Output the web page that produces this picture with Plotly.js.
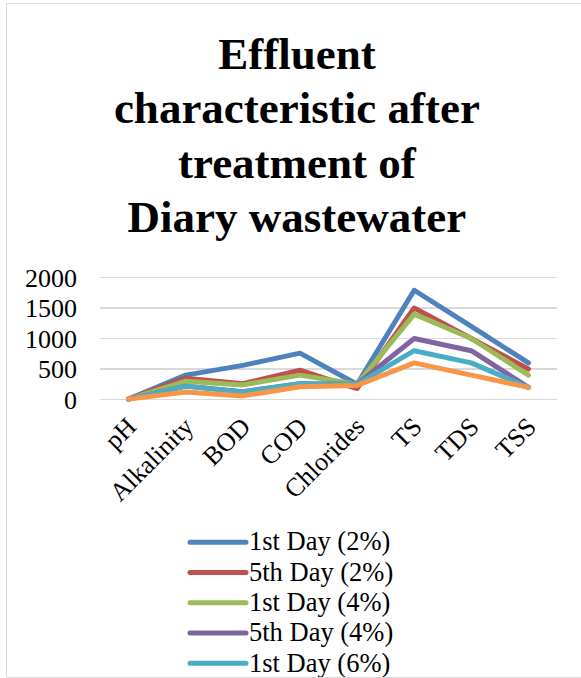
<!DOCTYPE html>
<html>
<head>
<meta charset="utf-8">
<script src="https://cdn.plot.ly/plotly-3.0.1.min.js"></script>
<style>
  html, body { margin: 0; padding: 0; background: #ffffff; overflow: hidden; width: 581px; height: 678px; }
  #frame { position: absolute; left: 6px; top: 3px; width: 640px; height: 673px; border: 1px solid #d9d9d9; pointer-events: none; z-index: 2; }
  #chart { position: absolute; left: 0; top: 0; width: 581px; height: 720px; z-index: 1; }
  .scatterlayer path.js-line, .legendlines path { stroke-linecap: round; stroke-linejoin: round; }
</style>
</head>
<body>
<div id="frame"></div>
<div id="chart"></div>
<script>
// ---- data ----
var categories = ["pH", "Alkalinity", "BOD", "COD", "Chlorides", "TS", "TDS", "TSS"];
var seriesNames = ["1st Day (2%)", "5th Day (2%)", "1st Day (4%)", "5th Day (4%)", "1st Day (6%)", "5th Day (6%)"];
var day1_2pct = [7, 400, 560, 760, 250, 1790, 1200, 600];
var day5_2pct = [7, 350, 260, 480, 180, 1500, 1000, 500];
var day1_4pct = [7, 300, 240, 400, 250, 1400, 1000, 400];
var day5_4pct = [7, 220, 130, 260, 250, 1000, 800, 200];
var day1_6pct = [7, 220, 125, 260, 250, 800, 600, 200];
var day5_6pct = [7, 125, 60, 210, 230, 600, 400, 200];
var yTicks = [0, 500, 1000, 1500, 2000];
var titleLines = ["Effluent", "characteristic after", "treatment of", "Diary wastewater"];

var seriesValues = [day1_2pct, day5_2pct, day1_4pct, day5_4pct, day1_6pct, day5_6pct];
var colors = ["#4F81BD", "#C0504D", "#9BBB59", "#8064A2", "#4BACC6", "#F79646"];

var traces = seriesValues.map(function (vals, i) {
  return {
    type: "scatter",
    mode: "lines",
    x: categories,
    y: vals,
    name: '<span style="font-size:26.5px">' + seriesNames[i] + '</span>',
    line: { color: colors[i], width: 5 },
    hoverinfo: "x+y+name"
  };
});

var serif = "'Liberation Serif', 'Times New Roman', Times, serif";

var layout = {
  width: 581,
  height: 720,
  paper_bgcolor: "rgba(0,0,0,0)",
  plot_bgcolor: "rgba(0,0,0,0)",
  margin: { l: 100, r: 24, t: 275, b: 318, pad: 0, autoexpand: false },
  title: {
    text: titleLines.map(function (t) { return '<span style="font-size:45px">' + t + '</span>'; }).join("<br>"),
    font: { family: serif, size: 41.8, color: "#000000", weight: "bold" },
    xref: "container", x: 0.511, xanchor: "center",
    yref: "container", y: 1 - 69 / 720, yanchor: "top",
    automargin: false
  },
  xaxis: {
    type: "category",
    range: [-0.5, 7.5],
    showgrid: false,
    zeroline: false,
    showline: false,
    ticks: "",
    tickangle: -45,
    ticklabelstandoff: 3,
    tickfont: { family: serif, size: 26, color: "#000000" },
    automargin: false,
    fixedrange: true
  },
  yaxis: {
    range: [-40, 2040],
    tickvals: yTicks,
    ticktext: yTicks.map(String),
    showgrid: true,
    gridcolor: "#d9d9d9",
    gridwidth: 1.3,
    zeroline: false,
    showline: false,
    ticks: "",
    ticklabelstandoff: 22,
    tickfont: { family: serif, size: 26, color: "#000000" },
    automargin: false,
    fixedrange: true
  },
  showlegend: true,
  legend: {
    orientation: "v",
    xref: "container", x: 183 / 581, xanchor: "left",
    yref: "container", y: 1 - 522 / 720, yanchor: "top",
    font: { family: serif, size: 21, color: "#000000" },
    itemwidth: 56,
    bgcolor: "rgba(0,0,0,0)",
    borderwidth: 0,
    traceorder: "normal"
  }
};

Plotly.newPlot("chart", traces, layout, { displayModeBar: false, staticPlot: true }).then(function (gd) {
  var paths = gd.querySelectorAll(".legend .legendlines path");
  paths.forEach(function (p) { p.setAttribute("d", "M7,0h56"); });
});
</script>
</body>
</html>
